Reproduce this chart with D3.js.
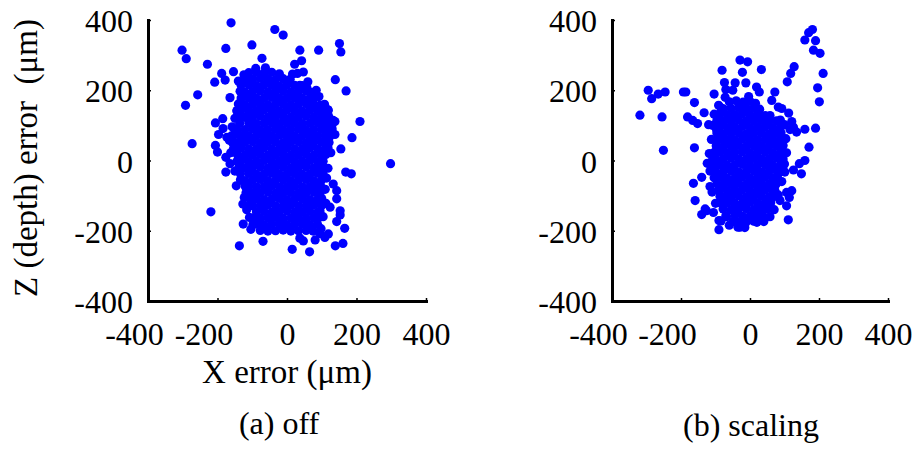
<!DOCTYPE html>
<html>
<head>
<meta charset="utf-8">
<script src="https://cdn.jsdelivr.net/npm/d3@7"></script>
<style>
  body { margin: 0; background: #fff; }
</style>
</head>
<body>
<div id="chart"></div>
<script>
const xTicks = [-400, -200, 0, 200, 400];
const yTicks = [-400, -200, 0, 200, 400];
const panelTitles = ['(a) off', '(b) scaling'];
const xTitle = 'X error (\u03bcm)';
const yTitle = 'Z (depth) error\u00a0\u00a0(\u03bcm)';

// (a) off : [x error, z error] in um
const offPoints = [
  // scattered points
  [-161,392],[-35,373],[-11,357],[-302,314],[-290,290],[-176,319],[-101,329],[-72,291],[37,314],[91,314],
  [151,333],[155,309],[-229,274],[-188,248],[-178,229],[-208,223],[-154,253],[-257,187],[-292,157],[-164,179],
  [22,274],[42,284],[30,248],[47,252],[139,230],[170,198],[210,111],[187,65],[155,33],[298,-9],
  [-273,48],[-206,107],[-185,119],[-197,74],[-206,43],[-200,24],[117,145],[138,111],[138,74],[-144,141],
  [-176,9],[-164,-9],[-176,-33],[169,-33],[185,-38],[-219,-146],[-137,-243],[-69,-230],[15,-253],[65,-260],
  [139,-243],[161,-236],[166,-193],[153,-143],[153,-155],[143,-174],[119,-209],[95,-208],[109,-219],[81,-226],
  [37,-221],[47,-229],[143,-86],[143,-109],[133,-67],[124,-133],[-126,-181],[-108,-162],[-127,-124],[-123,-105],
  [-137,-17],[-130,-57],[37,214],[57,208],[71,176],[95,152],[119,143],[105,124],[133,114],[129,100],
  [-184,91],[-173,66],
  // ragged edge of the core
  [-150,120],[-158,96],[-166,58],[-162,22],[-150,-30],[-146,-72],[-118,-92],[-116,-140],[-104,-196],[116,60],
  [126,22],[118,-22],[114,-50],[110,-82],[112,-122],[104,-160],[98,-194],[84,200],[92,182],[108,160],
  [-124,244],[-140,226],[16,246],[60,224],[-90,262],[-62,264],
  // dense core
  [-110,250],[-88,252],[-66,249],[-44,251],[-22,247],
  [-121,233],[-99,231],[-77,234],[-55,232],[-33,230],[-11,233],[9,231],
  [-132,214],[-110,216],[-88,213],[-66,215],[-44,214],[-22,212],[0,215],[22,214],[44,213],
  [-135,197],[-121,195],[-99,196],[-77,198],[-55,195],[-33,196],[-11,197],[11,195],[33,196],[55,198],[66,195],
  [-132,178],[-110,179],[-88,177],[-66,178],[-44,180],[-22,177],[0,178],[22,179],[44,177],[66,178],[80,180],
  [-140,161],[-121,159],[-99,160],[-77,162],[-55,159],[-33,160],[-11,161],[11,159],[33,160],[55,162],[77,160],[95,158],
  [-144,142],[-132,143],[-110,141],[-88,142],[-66,144],[-44,142],[-22,141],[0,143],[22,142],[44,141],[66,143],[88,142],[110,140],
  [-140,125],[-121,123],[-99,124],[-77,126],[-55,123],[-33,124],[-11,125],[11,123],[33,124],[55,126],[77,124],[99,123],[120,125],
  [-136,106],[-110,107],[-88,105],[-66,106],[-44,108],[-22,105],[0,106],[22,107],[44,105],[66,106],[88,108],[110,105],[128,107],
  [-150,89],[-143,87],[-121,88],[-99,90],[-77,87],[-55,88],[-33,89],[-11,87],[11,88],[33,90],[55,87],[77,88],[99,89],[121,87],[130,90],
  [-160,70],[-154,72],[-132,69],[-110,70],[-88,71],[-66,69],[-44,70],[-22,72],[0,69],[22,70],[44,71],[66,69],[88,70],[110,72],[124,70],
  [-158,53],[-143,51],[-121,52],[-99,54],[-77,51],[-55,52],[-33,53],[-11,51],[11,52],[33,54],[55,51],[77,52],[99,53],[121,51],
  [-154,34],[-132,35],[-110,33],[-88,34],[-66,36],[-44,33],[-22,34],[0,35],[22,33],[44,34],[66,36],[88,33],[110,34],[118,36],
  [-143,17],[-121,15],[-99,16],[-77,18],[-55,15],[-33,16],[-11,17],[11,15],[33,16],[55,18],[77,15],[99,16],[112,17],
  [-144,-2],[-132,-1],[-110,-3],[-88,-2],[-66,0],[-44,-3],[-22,-2],[0,-1],[22,-3],[44,-2],[66,0],[88,-3],[104,-2],
  [-138,-19],[-121,-21],[-99,-20],[-77,-18],[-55,-21],[-33,-20],[-11,-19],[11,-21],[33,-20],[55,-18],[77,-21],[99,-20],[104,-19],
  [-134,-38],[-110,-37],[-88,-39],[-66,-38],[-44,-36],[-22,-39],[0,-38],[22,-37],[44,-39],[66,-38],[88,-36],[104,-39],
  [-134,-55],[-121,-57],[-99,-56],[-77,-54],[-55,-57],[-33,-56],[-11,-55],[11,-57],[33,-56],[55,-54],[77,-57],[99,-56],
  [-120,-74],[-110,-73],[-88,-75],[-66,-74],[-44,-72],[-22,-75],[0,-74],[22,-73],[44,-75],[66,-74],[88,-72],[98,-75],
  [-106,-91],[-99,-93],[-77,-92],[-55,-90],[-33,-93],[-11,-92],[11,-91],[33,-93],[55,-92],[77,-90],[95,-93],
  [-106,-110],[-88,-109],[-66,-111],[-44,-110],[-22,-108],[0,-111],[22,-110],[44,-109],[66,-111],[88,-110],[100,-108],
  [-104,-127],[-99,-129],[-77,-128],[-55,-126],[-33,-129],[-11,-128],[11,-127],[33,-129],[55,-128],[77,-126],[99,-129],
  [-88,-146],[-66,-145],[-44,-147],[-22,-146],[0,-144],[22,-147],[44,-146],[66,-145],[88,-147],[95,-144],
  [-95,-163],[-77,-165],[-55,-164],[-33,-162],[-11,-165],[11,-164],[33,-163],[55,-165],[77,-164],[92,-162],
  [-98,-182],[-88,-181],[-66,-183],[-44,-182],[-22,-180],[0,-183],[22,-182],[44,-181],[66,-183],[88,-182],
  [-77,-199],[-55,-201],[-33,-200],[-11,-198],[11,-201],[33,-200],[55,-199],[75,-201]
];

// (b) scaling : [x error, z error] in um
const scalingPoints = [
  // scattered points
  [181,373],[170,364],[159,343],[190,341],[184,314],[203,305],[212,248],[196,207],[201,167],[190,92],
  [171,38],[128,267],[118,248],[108,224],[159,89],[112,135],[121,111],[126,95],[135,81],[116,88],
  [72,195],[63,171],[82,152],[92,148],[-29,286],[-7,281],[-81,257],[-22,251],[33,259],[-74,222],
  [-43,221],[-12,221],[19,209],[27,195],[-70,202],[-50,200],[-104,189],[-91,157],[-295,200],[-285,176],
  [-266,189],[-246,195],[-193,195],[-186,195],[-161,165],[-133,136],[-319,129],[-255,124],[-181,124],[-166,114],
  [-152,105],[-120,102],[-251,29],[-161,36],[-97,88],[159,0],[143,-9],[126,-27],[149,-38],[101,-33],
  [-111,-21],[-97,-14],[-140,-48],[-164,-65],[-116,-74],[-159,-114],[-130,-138],[-140,-154],[-126,-143],[-106,-148],
  [-90,-171],[-90,-197],[-68,-160],[-29,-190],[-17,-186],[58,-160],[111,-169],[106,-91],[121,-86],[114,-105],
  [106,-129],[87,-114],
  // ragged edge of the core
  [-104,132],[-108,100],[-112,60],[-118,20],[-124,-8],[-110,-90],[-100,-122],[100,102],[104,62],[106,22],
  [100,-10],[92,-60],[82,-98],[70,-140],[-84,-172],[40,-174],[-60,-184],[-72,180],[-4,182],[58,128],
  // dense core
  [-60,167],[-40,170],[-20,166],[0,168],[16,163],
  [-84,150],[-77,147],[-55,149],[-33,151],[-11,148],[11,149],[28,146],
  [-92,131],[-88,132],[-66,130],[-44,131],[-22,133],[0,130],[22,131],[44,128],
  [-96,114],[-77,112],[-55,113],[-33,115],[-11,112],[11,113],[33,114],[55,112],[77,113],[88,115],
  [-96,95],[-88,96],[-66,94],[-44,95],[-22,97],[0,94],[22,95],[44,96],[66,94],[88,95],
  [-96,78],[-77,76],[-55,77],[-33,79],[-11,76],[11,77],[33,78],[55,76],[77,77],[90,79],
  [-96,59],[-88,60],[-66,58],[-44,59],[-22,61],[0,58],[22,59],[44,60],[66,58],[88,59],[96,61],
  [-98,42],[-77,40],[-55,41],[-33,43],[-11,40],[11,41],[33,42],[55,40],[77,41],[96,43],
  [-104,23],[-88,24],[-66,22],[-44,23],[-22,25],[0,22],[22,23],[44,24],[66,22],[88,23],[96,25],
  [-108,6],[-99,4],[-77,5],[-55,7],[-33,4],[-11,5],[11,6],[33,4],[55,5],[77,7],[96,4],
  [-110,-13],[-88,-12],[-66,-14],[-44,-13],[-22,-11],[0,-14],[22,-13],[44,-12],[66,-14],[88,-13],[94,-11],
  [-116,-30],[-99,-32],[-77,-31],[-55,-29],[-33,-32],[-11,-31],[11,-30],[33,-32],[55,-31],[77,-29],[87,-32],
  [-104,-49],[-88,-48],[-66,-50],[-44,-49],[-22,-47],[0,-50],[22,-49],[44,-48],[66,-50],[80,-49],
  [-96,-66],[-77,-68],[-55,-67],[-33,-65],[-11,-68],[11,-67],[33,-66],[55,-68],[76,-67],
  [-92,-85],[-88,-84],[-66,-86],[-44,-85],[-22,-83],[0,-86],[22,-85],[44,-84],[66,-86],[72,-85],
  [-87,-102],[-77,-104],[-55,-103],[-33,-101],[-11,-104],[11,-103],[33,-102],[55,-104],[68,-103],
  [-84,-121],[-66,-120],[-44,-122],[-22,-121],[0,-119],[22,-122],[44,-121],[60,-120],
  [-78,-138],[-55,-140],[-33,-139],[-11,-137],[11,-140],[33,-139],[49,-138],
  [-70,-157],[-44,-156],[-22,-158],[0,-157],[22,-155],[38,-158],
  [-49,-174],[-33,-176],[-11,-175],[11,-173],[20,-176],
  [-35,-190],[-15,-191]
];

const WIDTH = 920;
const HEIGHT = 454;
const FONT = "'Liberation Serif', 'DejaVu Serif', 'Noto Serif', serif";

const svg = d3.select('#chart')
  .append('svg')
    .attr('width', WIDTH)
    .attr('height', HEIGHT);

const panels = [
  { points: offPoints, left: 148, right: 426, titleX: 279, titleY: 434 },
  { points: scalingPoints, left: 612, right: 888, titleX: 751, titleY: 436 }
];

const y = d3.scaleLinear().domain([-400, 400]).range([301, 20]);

panels.forEach((p, i) => {
  const x = d3.scaleLinear().domain([-400, 400]).range([p.left, p.right]);
  const g = svg.append('g');

  // points
  g.selectAll('.dot')
    .data(p.points)
    .enter()
      .append('circle')
      .attr('class', 'dot')
      .attr('cx', d => x(d[0]))
      .attr('cy', d => y(d[1]))
      .attr('r', 4.6)
      .attr('fill', '#0000ff');

  // x axis
  const xa = g.append('g')
    .attr('transform', `translate(0, ${y(-400)})`)
    .call(d3.axisBottom(x).tickValues(xTicks).tickSizeInner(-3).tickSizeOuter(0).tickFormat(d => d));
  xa.attr('font-family', FONT).attr('font-size', 32);
  xa.selectAll('text')
    .attr('y', 44).attr('dy', null)
    .attr('dx', d => d < 0 ? -14 : 0)
    .attr('fill', '#000');

  // y axis
  const ya = g.append('g')
    .attr('transform', `translate(${p.left}, 0)`)
    .call(d3.axisLeft(y).tickValues(yTicks).tickSizeInner(-3).tickSizeOuter(0).tickFormat(d => d));
  ya.attr('font-family', FONT).attr('font-size', 32);
  ya.selectAll('text')
    .attr('x', -15).attr('dy', '0.36em')
    .attr('fill', '#000');

  g.selectAll('.domain')
    .attr('stroke', '#000')
    .attr('stroke-width', 3)
    .attr('stroke-linecap', 'square');
  g.selectAll('.tick line')
    .attr('stroke', '#000')
    .attr('stroke-width', 1.5);

  // panel caption
  svg.append('text')
    .attr('x', p.titleX)
    .attr('y', p.titleY)
    .attr('text-anchor', 'middle')
    .attr('font-family', FONT)
    .attr('font-size', 32)
    .text(panelTitles[i]);

  if (i === 0) {
    svg.append('text')
      .attr('x', x(0))
      .attr('y', 383)
      .attr('text-anchor', 'middle')
      .attr('font-family', FONT)
      .attr('font-size', 33)
      .text(xTitle);
    svg.append('text')
      .attr('transform', 'translate(37, 158) rotate(-90)')
      .attr('text-anchor', 'middle')
      .attr('font-family', FONT)
      .attr('font-size', 33)
      .text(yTitle);
  }
});
</script>
</body>
</html>
